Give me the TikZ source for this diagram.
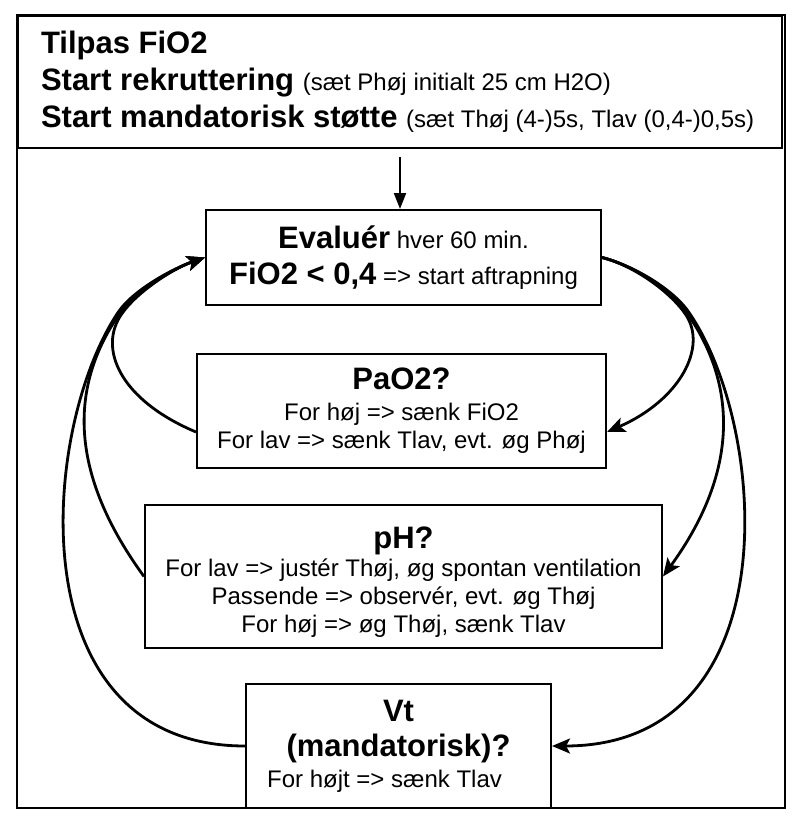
\documentclass[tikz,border=0pt]{standalone}
\usepackage{fontspec}
\setmainfont{Liberation Sans}
\usetikzlibrary{arrows.meta}
\newcommand\bigb{\fontsize{31}{37}\selectfont\bfseries}
\newcommand\smallr{\fontsize{24}{28}\selectfont\mdseries}
\begin{document}
\begin{tikzpicture}[x=1pt,y=-1pt,
  qbox/.style={draw,line width=2pt,align=center,inner sep=0pt,font=\smallr},
  flow/.style={line width=2.8pt,-{Stealth[length=18pt,width=15pt,inset=4pt]}},
  down/.style={line width=2.2pt,-{Triangle[length=16pt,width=12pt]}}]
\useasboundingbox (0,0) rectangle (796,824);
\draw[line width=2pt] (17,15) rectangle (785,808);
\node[draw,line width=2pt,anchor=north west,minimum width=764pt,minimum height=132pt,
  text width=718pt,inner xsep=23pt,inner ysep=0pt,align=flush left,font=\bigb] (head) at (17,15)
  {\spaceskip=0pt\relax
   \mbox{Tilpas FiO2}\\
   \mbox{Start rekruttering {\smallr (sæt Phøj initialt 25 cm H2O)}}\\
   \mbox{Start mandatorisk støtte {\smallr (sæt Thøj (4-)5s, Tlav (0,4-)0,5s)}}};
\node[qbox,minimum width=395pt,minimum height=95pt] (eval) at (403.5,257.5)
  {{\bigb Evaluér} hver 60 min.\\[8pt]{\bigb FiO2 < 0,4} => start aftrapning};
\node[qbox,minimum width=409pt,minimum height=114pt] (pao2) at (401.5,411)
  {{\bigb PaO2?}\\[3pt]For høj => sænk FiO2\\For lav => sænk Tlav, evt. øg Phøj};
\node[qbox,minimum width=517pt,minimum height=143pt] (ph) at (403.5,576.5)
  {\rule{0pt}{32pt}{\bigb pH?}\\For lav => justér Thøj, øg spontan ventilation\\
   Passende => observér, evt. øg Thøj\\For høj => øg Thøj, sænk Tlav};
\node[qbox,minimum width=305pt,minimum height=124pt] (vt) at (398.5,746)
  {{\bigb Vt}\\[7pt]{\bigb (mandatorisk)?}\\[3pt]For højt => sænk Tlav\hspace*{28pt}};
\coordinate (jA) at (121.6,314.1);
\coordinate (jB) at (120,313);
\coordinate (jC) at (118.4,311.9);
\coordinate (rA) at (685.4,314.1);
\coordinate (rB) at (687,313);
\coordinate (rC) at (688.6,311.9);
\draw[down] ([yshift=-8pt]head.south) -- (head.south |- eval.north);
\draw[flow] ([yshift=-21pt]pao2.west) .. controls (120,400) and (97.6,348.5) .. (jA)
  .. controls +(15,-22) and +(-32,11) .. (eval.west);
\draw[flow] (ph.west) .. controls (76,483) and (63,395) .. (jB)
  .. controls +(15,-22) and +(-32,11) .. (eval.west);
\draw[flow] (vt.west) .. controls (16,746) and (40,428) .. (jC)
  .. controls +(15,-22) and +(-32,11) .. (eval.west);
\draw[flow] (eval.east) .. controls +(32,8) and +(-15,-22) .. (rA)
  .. controls (708,347) and (680,400) .. ([yshift=-21pt]pao2.east);
\draw[flow] (eval.east) .. controls +(32,8) and +(-15,-22) .. (rB)
  .. controls (744,395) and (731,483) .. (ph.east);
\draw[flow] (eval.east) .. controls +(32,8) and +(-15,-22) .. (rC)
  .. controls (768.6,427) and (791,746) .. (vt.east);
\end{tikzpicture}
\end{document}
